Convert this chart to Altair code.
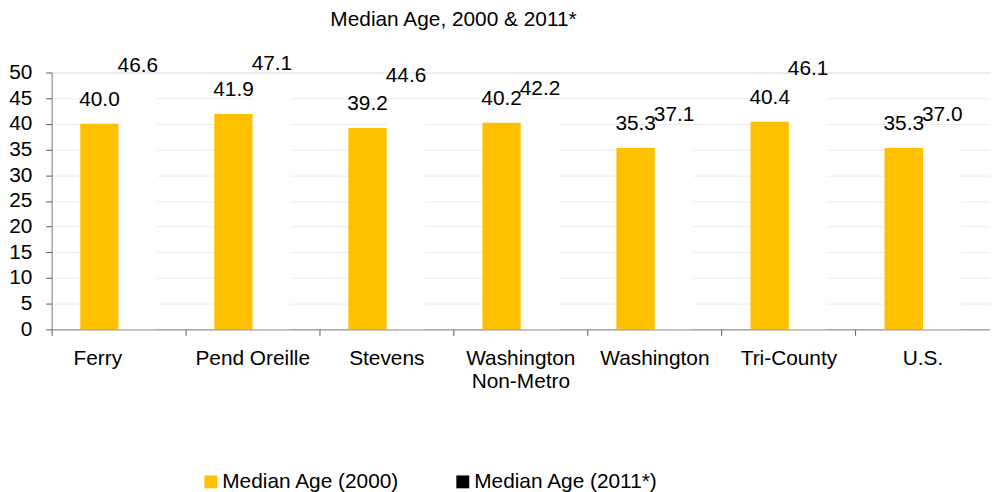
import altair as alt
import pandas as pd

categories = ["Ferry", "Pend Oreille", "Stevens", "Washington Non-Metro", "Washington", "Tri-County", "U.S."]
age_2000 = [40.0, 41.9, 39.2, 40.2, 35.3, 40.4, 35.3]
age_2011 = [46.6, 47.1, 44.6, 42.2, 37.1, 46.1, 37.0]
series = ["Median Age (2000)", "Median Age (2011*)"]
y_ticks = [0, 5, 10, 15, 20, 25, 30, 35, 40, 45, 50]

rows = []
for c, a, b in zip(categories, age_2000, age_2011):
    rows.append({"category": c, "series": series[0], "value": a})
    rows.append({"category": c, "series": series[1], "value": b})
df = pd.DataFrame(rows)

FONT = "Liberation Sans, Arial, sans-serif"

x_enc = alt.X(
    "category:N",
    sort=categories,
    scale=alt.Scale(paddingInner=0, paddingOuter=0),
    axis=alt.Axis(
        title=None,
        labelAngle=0,
        labelFontSize=21,
        labelFont=FONT,
        labelColor="black",
        labelPadding=12,
        labelLimit=0,
        labelLineHeight=24,
        labelOverlap=False,
        labelExpr="datum.label == 'Washington Non-Metro' ? ['Washington', 'Non-Metro'] : datum.label",
        labelOffset={"condition": {"test": "datum.label == 'Ferry'", "value": -21}, "value": 0},
        bandPosition=0,
        ticks=True,
        tickSize=6,
        tickColor="#555555",
        domainColor="#868686",
        grid=False,
    ),
)
xoff_enc = alt.XOffset(
    "series:N", sort=series, scale=alt.Scale(paddingOuter=0.744, paddingInner=0)
)
y_enc = alt.Y(
    "value:Q",
    scale=alt.Scale(domain=[0, 50], nice=False),
    axis=alt.Axis(
        title=None,
        values=y_ticks,
        tickCount=11,
        labelOverlap=False,
        labelFontSize=21,
        labelFont=FONT,
        labelColor="black",
        labelPadding=14,
        tickSize=6,
        tickColor="#555555",
        domainColor="#868686",
        gridColor="#EBEBEB",
        gridWidth=1,
    ),
)

bars = alt.Chart(df).mark_bar().encode(
    x=x_enc,
    xOffset=xoff_enc,
    y=y_enc,
    color=alt.condition(
        f"datum.series == '{series[1]}'",
        alt.value("white"),
        alt.Color(
            "series:N",
            sort=series,
            scale=alt.Scale(domain=series, range=["#FFC000", "#000000"]),
            legend=alt.Legend(
                title=None,
                orient="none",
                direction="horizontal",
                legendX=150,
                legendY=402,
                symbolType="square",
                symbolSize=169,
                symbolStrokeWidth=0,
                symbolOpacity=1,
                labelFontSize=21,
                labelFont=FONT,
                labelColor="black",
                labelLimit=0,
                labelOffset=1,
                columnPadding=53,
                padding=0,
            ),
        ),
    ),
)

labels = alt.Chart(df).mark_text(
    dy=-18, baseline="alphabetic", fontSize=21, font=FONT, color="black"
).encode(
    x=x_enc,
    xOffset=xoff_enc,
    y=y_enc,
    text=alt.Text("value:Q", format=".1f"),
)

chart = (
    alt.layer(bars, labels)
    .properties(
        width=946,
        height=259,
        padding={"left": 44, "top": 63, "right": 0, "bottom": 166},
        autosize=alt.AutoSizeParams(type="none"),
        title=alt.TitleParams(
            "Median Age, 2000 & 2011*",
            anchor="start",
            frame="group",
            dx=281,
            offset=6,
            baseline="alphabetic",
            fontSize=21,
            font=FONT,
            fontWeight="normal",
            color="black",
        ),
    )
    .configure_view(stroke=None)
    .configure(background="white")
)

chart.save("out.html", embed_options={"renderer": "svg", "actions": False})
